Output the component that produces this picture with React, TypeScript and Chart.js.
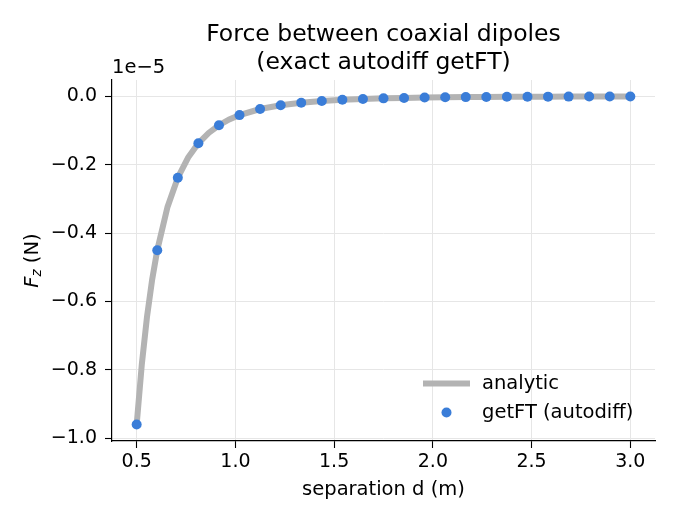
import React, { useEffect, useRef } from "react";
import { Chart, registerables } from "chart.js";

Chart.register(...registerables);

// getFT (autodiff) samples, in units of 1e-5 N
const pointX = [
  0.5, 0.6042, 0.7083, 0.8125, 0.9167, 1.0208, 1.125, 1.2292, 1.3333, 1.4375,
  1.5417, 1.6458, 1.75, 1.8542, 1.9583, 2.0625, 2.1667, 2.2708, 2.375, 2.4792,
  2.5833, 2.6875, 2.7917, 2.8958, 3.0,
];
const pointY = [
  -0.96, -0.4502, -0.2384, -0.1377, -0.085, -0.0553, -0.0375, -0.0263, -0.019,
  -0.0141, -0.0106, -0.0082, -0.0064, -0.0051, -0.0041, -0.0033, -0.0027,
  -0.0023, -0.0019, -0.0016, -0.0013, -0.0012, -0.001, -0.0009, -0.0007,
];

// analytic curve, in units of 1e-5 N
const lineX = [
  0.5, 0.526, 0.5521, 0.578, 0.6042, 0.6562, 0.7083, 0.7604, 0.8125, 0.8646,
  0.9167, 0.9688, 1.0208, 1.125, 1.2292, 1.3333, 1.4375, 1.5417, 1.6458, 1.75,
  1.8542, 1.9583, 2.0625, 2.1667, 2.2708, 2.375, 2.4792, 2.5833, 2.6875,
  2.7917, 2.8958, 3.0,
];
const lineY = [
  -0.96, -0.7838, -0.6458, -0.5376, -0.4502, -0.3236, -0.2384, -0.1795,
  -0.1377, -0.1074, -0.085, -0.0681, -0.0553, -0.0375, -0.0263, -0.019,
  -0.0141, -0.0106, -0.0082, -0.0064, -0.0051, -0.0041, -0.0033, -0.0027,
  -0.0023, -0.0019, -0.0016, -0.0013, -0.0012, -0.001, -0.0009, -0.0007,
];

const xTicks = [0.5, 1.0, 1.5, 2.0, 2.5, 3.0];
const yTicks = [-1.0, -0.8, -0.6, -0.4, -0.2, 0.0];
const titleLines = ["Force between coaxial dipoles", "(exact autodiff getFT)"];
const xLabel = "separation d (m)";
const yLabelMain = "F";
const yLabelSub = "z";
const yLabelUnit = " (N)";
const offsetText = "1e\u22125";
const legendLabels = ["analytic", "getFT (autodiff)"];

const LINE_COLOR = "#b3b3b3";
const POINT_COLOR = "#3a7dd8";
const FONT = "'DejaVu Sans', sans-serif";

const fmt = (v: number) => {
  const s = (Math.abs(v) < 1e-9 ? 0 : v).toFixed(1);
  return s.replace("-", "\u2212");
};

const textPlugin = {
  id: "textPlugin",
  afterDraw(chart: any) {
    const ctx = chart.ctx as CanvasRenderingContext2D;
    const area = chart.chartArea;
    const cx = (area.left + area.right) / 2;
    const cy = (area.top + area.bottom) / 2;
    ctx.save();
    ctx.fillStyle = "#000";
    ctx.textBaseline = "alphabetic";

    // title
    ctx.font = `23.5px ${FONT}`;
    ctx.textAlign = "center";
    ctx.fillText(titleLines[0], cx, 40.5);
    ctx.fillText(titleLines[1], cx, 68.5);

    // x label
    ctx.font = `19.5px ${FONT}`;
    ctx.fillText(xLabel, cx, 495);

    // offset text
    ctx.textAlign = "left";
    ctx.fillText(offsetText, area.left, 73);

    // y label
    ctx.save();
    ctx.translate(37.5, cy);
    ctx.rotate(-Math.PI / 2);
    const mainFont = `italic 19.5px ${FONT}`;
    const subFont = `italic 13.6px ${FONT}`;
    const unitFont = `19.5px ${FONT}`;
    ctx.font = mainFont;
    const w1 = ctx.measureText(yLabelMain).width;
    ctx.font = subFont;
    const w2 = ctx.measureText(yLabelSub).width;
    ctx.font = unitFont;
    const w3 = ctx.measureText(yLabelUnit).width;
    let x0 = -(w1 + w2 + w3) / 2;
    ctx.textAlign = "left";
    ctx.font = mainFont;
    ctx.fillText(yLabelMain, x0, 0);
    x0 += w1;
    ctx.font = subFont;
    ctx.fillText(yLabelSub, x0, 3);
    x0 += w2;
    ctx.font = unitFont;
    ctx.fillText(yLabelUnit, x0, 0);
    ctx.restore();

    // legend
    ctx.font = `19.5px ${FONT}`;
    ctx.textBaseline = "middle";
    ctx.strokeStyle = LINE_COLOR;
    ctx.lineWidth = 6;
    ctx.beginPath();
    ctx.moveTo(423, 383.5);
    ctx.lineTo(470, 383.5);
    ctx.stroke();
    ctx.fillText(legendLabels[0], 482, 383.5);
    ctx.fillStyle = POINT_COLOR;
    ctx.beginPath();
    ctx.arc(446.5, 412.5, 5, 0, Math.PI * 2);
    ctx.fill();
    ctx.fillStyle = "#000";
    ctx.fillText(legendLabels[1], 482, 412.5);
    ctx.restore();
  },
};

export default function App() {
  const ref = useRef<HTMLCanvasElement | null>(null);
  useEffect(() => {
    document.body.style.margin = "0";
    if (!ref.current) return;
    Chart.defaults.font.family = FONT;
    const chart = new Chart(ref.current, {
      type: "scatter",
      data: {
        datasets: [
          {
            label: legendLabels[1],
            data: pointX.map((x, i) => ({ x, y: pointY[i] })),
            backgroundColor: POINT_COLOR,
            borderWidth: 0,
            pointRadius: 5,
            showLine: false,
            order: 0,
          },
          {
            label: legendLabels[0],
            data: lineX.map((x, i) => ({ x, y: lineY[i] })),
            borderColor: LINE_COLOR,
            borderWidth: 6,
            pointRadius: 0,
            showLine: true,
            tension: 0,
            order: 1,
          },
        ],
      },
      options: {
        animation: false,
        responsive: false,
        devicePixelRatio: 1,
        layout: { padding: { left: 0, right: 21, top: 80, bottom: 0 } },
        plugins: {
          legend: { display: false },
          title: { display: false },
          tooltip: { enabled: false },
        },
        scales: {
          x: {
            type: "linear",
            min: 0.375,
            max: 3.125,
            afterBuildTicks: (s: any) => {
              s.ticks = xTicks.map((v) => ({ value: v }));
            },
            afterFit: (s: any) => {
              s.height = 79;
            },
            ticks: {
              color: "#000",
              font: { size: 19, family: FONT },
              padding: 3,
              maxRotation: 0,
              autoSkip: false,
              callback: (v: any) => fmt(Number(v)),
            },
            grid: {
              color: "#e6e6e6",
              lineWidth: 1,
              drawTicks: true,
              tickLength: 7,
              tickColor: "#000",
              tickWidth: 1.1,
            },
            border: { display: true, color: "#000", width: 1.2 },
          },
          y: {
            type: "linear",
            min: -1.008,
            max: 0.0473,
            afterBuildTicks: (s: any) => {
              s.ticks = yTicks.map((v) => ({ value: v }));
            },
            afterFit: (s: any) => {
              s.width = 112;
            },
            ticks: {
              color: "#000",
              font: { size: 19, family: FONT },
              padding: 8,
              autoSkip: false,
              callback: (v: any) => fmt(Number(v)),
            },
            grid: {
              color: "#e6e6e6",
              lineWidth: 1,
              drawTicks: true,
              tickLength: 7,
              tickColor: "#000",
              tickWidth: 1.1,
            },
            border: { display: true, color: "#000", width: 1.2 },
          },
        },
      },
      plugins: [textPlugin],
    } as any);
    return () => chart.destroy();
  }, []);
  return (
    <div style={{ position: "fixed", left: 0, top: 0, width: 676, height: 520, background: "#fff" }}>
      <canvas ref={ref} width={676} height={520} style={{ width: 676, height: 520 }} />
    </div>
  );
}
